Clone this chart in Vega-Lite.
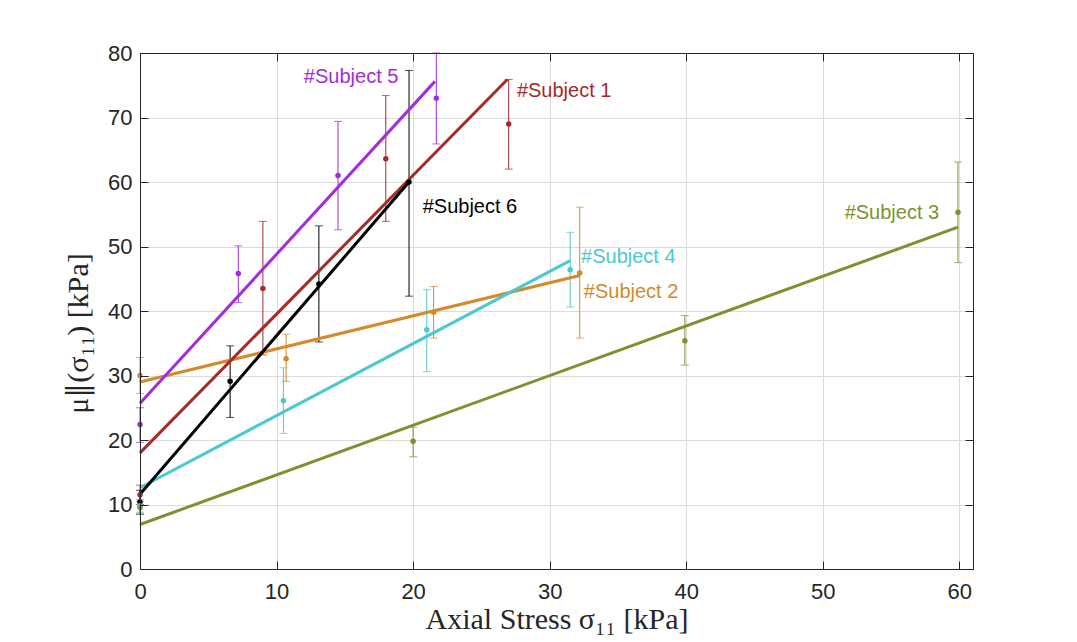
{
  "$schema": "https://vega.github.io/schema/vega-lite/v6.json",
  "width": 833,
  "height": 516,
  "autosize": "none",
  "padding": {"left": 140, "top": 53, "right": 104, "bottom": 73},
  "background": "white",
  "datasets": {
    "pts": [
      {"subject": "S5", "x": 0, "y": 22.4, "lo": 19.6, "hi": 25.0},
      {"subject": "S5", "x": 7.2, "y": 45.8, "lo": 41.3, "hi": 50.1},
      {"subject": "S5", "x": 14.5, "y": 61.0, "lo": 52.6, "hi": 69.4},
      {"subject": "S5", "x": 21.7, "y": 73.0, "lo": 65.9, "hi": 80.0},
      {"subject": "S1", "x": 0, "y": 11.5, "lo": 10.0, "hi": 13.0},
      {"subject": "S1", "x": 9.0, "y": 43.5, "lo": 33.2, "hi": 53.9},
      {"subject": "S1", "x": 18.0, "y": 63.6, "lo": 53.9, "hi": 73.4},
      {"subject": "S1", "x": 27.0, "y": 69.0, "lo": 62.0, "hi": 75.9},
      {"subject": "S6", "x": 0, "y": 10.4, "lo": 8.5, "hi": 12.2},
      {"subject": "S6", "x": 6.6, "y": 29.1, "lo": 23.5, "hi": 34.6},
      {"subject": "S6", "x": 13.1, "y": 44.2, "lo": 35.2, "hi": 53.2},
      {"subject": "S6", "x": 19.7, "y": 60.0, "lo": 42.3, "hi": 77.3},
      {"subject": "S4", "x": 0, "y": 9.8, "lo": 8.8, "hi": 10.8},
      {"subject": "S4", "x": 10.5, "y": 26.1, "lo": 21.0, "hi": 31.2},
      {"subject": "S4", "x": 21.0, "y": 37.1, "lo": 30.6, "hi": 43.3},
      {"subject": "S4", "x": 31.5, "y": 46.4, "lo": 40.6, "hi": 52.2},
      {"subject": "S2", "x": 0, "y": 30.0, "lo": 27.2, "hi": 32.8},
      {"subject": "S2", "x": 10.7, "y": 32.6, "lo": 29.1, "hi": 36.4},
      {"subject": "S2", "x": 21.5, "y": 39.8, "lo": 35.8, "hi": 43.8},
      {"subject": "S2", "x": 32.2, "y": 45.9, "lo": 35.8, "hi": 56.1},
      {"subject": "S3", "x": 0, "y": 9.5, "lo": 8.5, "hi": 10.5},
      {"subject": "S3", "x": 20.0, "y": 19.8, "lo": 17.4, "hi": 22.0},
      {"subject": "S3", "x": 39.9, "y": 35.4, "lo": 31.6, "hi": 39.3},
      {"subject": "S3", "x": 59.9, "y": 55.3, "lo": 47.5, "hi": 63.1}
    ],
    "fits": [
      {"subject": "S3", "x": 0, "y": 6.9},
      {"subject": "S3", "x": 59.9, "y": 53.0},
      {"subject": "S2", "x": 0, "y": 29.0},
      {"subject": "S2", "x": 32.2, "y": 45.5},
      {"subject": "S4", "x": 0, "y": 12.6},
      {"subject": "S4", "x": 31.5, "y": 47.8},
      {"subject": "S1", "x": 0, "y": 18.0},
      {"subject": "S1", "x": 26.9, "y": 75.9},
      {"subject": "S5", "x": 0, "y": 25.7},
      {"subject": "S5", "x": 21.6, "y": 75.6},
      {"subject": "S6", "x": 0, "y": 11.6},
      {"subject": "S6", "x": 19.7, "y": 60.0}
    ],
    "labels": [
      {"subject": "S5", "x": 12.0, "y": 76.3, "text": "#Subject 5"},
      {"subject": "S1", "x": 27.6, "y": 74.1, "text": "#Subject 1"},
      {"subject": "S6", "x": 20.7, "y": 56.1, "text": "#Subject 6"},
      {"subject": "S4", "x": 32.3, "y": 48.4, "text": "#Subject 4"},
      {"subject": "S2", "x": 32.5, "y": 42.9, "text": "#Subject 2"},
      {"subject": "S3", "x": 51.6, "y": 55.2, "text": "#Subject 3"}
    ]
  },
  "layer": [
    {
      "data": {"name": "pts"},
      "mark": {"type": "rule", "strokeWidth": 1},
      "encoding": {
        "x": {
          "field": "x",
          "type": "quantitative",
          "scale": {"domain": [0, 61], "nice": false},
          "axis": {
            "values": [0, 10, 20, 30, 40, 50, 60],
            "title": "Axial Stress σ₁₁ [kPa]",
            "titleFont": "Liberation Serif",
            "titleFontSize": 30,
            "titleFontWeight": "normal",
            "titleColor": "#262626",
            "titleBaseline": "alphabetic",
            "titleY": 59,
            "labelFont": "Liberation Sans",
            "labelFontSize": 22,
            "labelColor": "#262626",
            "labelPadding": 20,
            "labelFlush": false,
            "domainColor": "#262626",
            "ticks": true,
            "tickColor": "#262626",
            "tickWidth": 1,
            "tickSize": -8,
            "zindex": 1,
            "grid": false
          }
        },
        "y": {
          "field": "lo",
          "type": "quantitative",
          "scale": {"domain": [0, 80], "nice": false},
          "axis": {
            "values": [0, 10, 20, 30, 40, 50, 60, 70, 80],
            "title": "μ∥(σ₁₁)  [kPa]",
            "titleFont": "Liberation Serif",
            "titleFontSize": 30,
            "titleFontWeight": "normal",
            "titleColor": "#262626",
            "titleBaseline": "alphabetic",
            "titleX": -53,
            "titleY": 280,
            "labelFont": "Liberation Sans",
            "labelFontSize": 22,
            "labelColor": "#262626",
            "labelPadding": 16,
            "labelFlush": false,
            "domainColor": "#262626",
            "ticks": true,
            "tickColor": "#262626",
            "tickWidth": 1,
            "tickSize": -8,
            "zindex": 1,
            "grid": false
          }
        },
        "y2": {"field": "hi"},
        "color": {
          "field": "subject",
          "type": "nominal",
          "scale": {
            "domain": ["S1", "S2", "S3", "S4", "S5", "S6"],
            "range": ["#a52a2a", "#d4892a", "#7d922e", "#4bc8d0", "#a32cdc", "#000000"]
          },
          "legend": null
        }
      }
    },
    {
      "data": {"name": "pts"},
      "mark": {"type": "tick", "orient": "horizontal", "size": 8, "thickness": 1},
      "encoding": {
        "x": {
          "field": "x",
          "type": "quantitative",
          "axis": {
            "values": [0, 10, 20, 30, 40, 50, 60],
            "grid": true,
            "gridColor": "#dcdcdc",
            "domain": false,
            "ticks": false,
            "labels": false,
            "title": null,
            "zindex": 0
          }
        },
        "y": {
          "field": "lo",
          "type": "quantitative",
          "axis": {
            "values": [0, 10, 20, 30, 40, 50, 60, 70, 80],
            "grid": true,
            "gridColor": "#dcdcdc",
            "domain": false,
            "ticks": false,
            "labels": false,
            "title": null,
            "zindex": 0
          }
        },
        "color": {"field": "subject", "type": "nominal", "legend": null}
      }
    },
    {
      "data": {"name": "pts"},
      "mark": {"type": "tick", "orient": "horizontal", "size": 8, "thickness": 1},
      "encoding": {
        "x": {"field": "x", "type": "quantitative", "axis": null},
        "y": {"field": "hi", "type": "quantitative", "axis": null},
        "color": {"field": "subject", "type": "nominal", "legend": null}
      }
    },
    {
      "data": {"name": "fits"},
      "mark": {"type": "line", "strokeWidth": 3},
      "encoding": {
        "x": {"field": "x", "type": "quantitative", "axis": null},
        "y": {"field": "y", "type": "quantitative", "axis": null},
        "detail": {"field": "subject"},
        "color": {"field": "subject", "type": "nominal", "legend": null}
      }
    },
    {
      "data": {"name": "pts"},
      "mark": {"type": "circle", "size": 30, "opacity": 1},
      "encoding": {
        "x": {"field": "x", "type": "quantitative", "axis": null},
        "y": {"field": "y", "type": "quantitative", "axis": null},
        "color": {"field": "subject", "type": "nominal", "legend": null}
      }
    },
    {
      "data": {"name": "labels"},
      "mark": {"type": "text", "align": "left", "baseline": "middle", "font": "Liberation Sans", "fontSize": 20},
      "encoding": {
        "x": {"field": "x", "type": "quantitative", "axis": null},
        "y": {"field": "y", "type": "quantitative", "axis": null},
        "text": {"field": "text"},
        "color": {"field": "subject", "type": "nominal", "legend": null}
      }
    },
    {
      "data": {"values": [{"x": 0, "y": 0}]},
      "mark": {"type": "point", "opacity": 0},
      "encoding": {
        "x": {
          "field": "x",
          "type": "quantitative",
          "axis": {
            "orient": "top",
            "values": [0, 10, 20, 30, 40, 50, 60],
            "labels": false,
            "title": null,
            "grid": false,
            "domainColor": "#262626",
            "ticks": true,
            "tickColor": "#262626",
            "tickWidth": 1,
            "tickSize": -8,
            "zindex": 1
          }
        },
        "y": {
          "field": "y",
          "type": "quantitative",
          "axis": {
            "orient": "right",
            "values": [0, 10, 20, 30, 40, 50, 60, 70, 80],
            "labels": false,
            "title": null,
            "grid": false,
            "domainColor": "#262626",
            "ticks": true,
            "tickColor": "#262626",
            "tickWidth": 1,
            "tickSize": -8,
            "zindex": 1
          }
        }
      }
    }
  ],
  "resolve": {"axis": {"x": "independent", "y": "independent"}},
  "config": {"view": {"stroke": null}}
}
